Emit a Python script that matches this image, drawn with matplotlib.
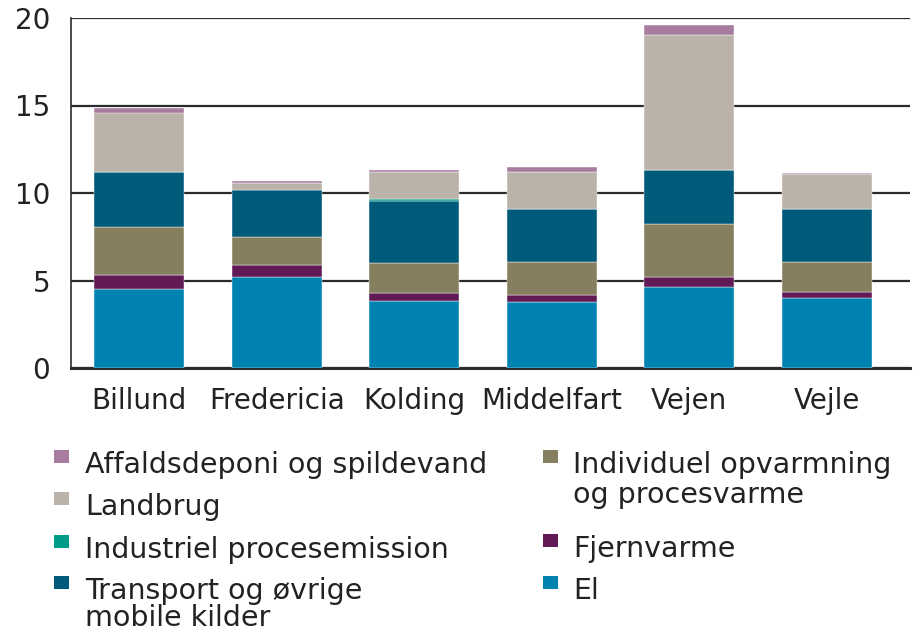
import matplotlib.pyplot as plt
import numpy as np
from matplotlib.patches import Rectangle

plt.rcParams['font.family'] = ['DejaVu Sans']

kommuner = ["Billund", "Fredericia", "Kolding", "Middelfart", "Vejen", "Vejle"]

# stacking order bottom -> top
el = [4.50, 5.20, 3.83, 3.75, 4.65, 3.98]
fjernvarme = [0.83, 0.70, 0.47, 0.42, 0.55, 0.38]
individuel = [2.73, 1.57, 1.68, 1.87, 3.05, 1.68]
transport = [3.14, 2.73, 3.58, 3.05, 3.05, 3.03]
industriel = [0.0, 0.0, 0.10, 0.0, 0.0, 0.0]
landbrug = [3.40, 0.35, 1.56, 2.11, 7.73, 2.00]
affald = [0.27, 0.14, 0.11, 0.30, 0.57, 0.07]

series = [
    ("El", el, "#0083B0"),
    ("Fjernvarme", fjernvarme, "#611A55"),
    ("Individuel opvarmning\nog procesvarme", individuel, "#857F5F"),
    ("Transport og øvrige\nmobile kilder", transport, "#005A7A"),
    ("Industriel procesemission", industriel, "#009C8A"),
    ("Landbrug", landbrug, "#BBB3AA"),
    ("Affaldsdeponi og spildevand", affald, "#A87C9F"),
]

W, H = 915, 634
fig = plt.figure(figsize=(W / 100, H / 100), dpi=100)
ax = fig.add_axes([70.5 / W, 1 - 368 / H, (910 - 70.5) / W, 350 / H])

x = np.arange(len(kommuner))
bottom = np.zeros(len(kommuner))
for name, vals, col in series:
    ax.bar(x, vals, width=0.655, bottom=bottom, color=col, edgecolor="white",
           linewidth=0.3, zorder=3)
    bottom += np.array(vals)

ax.set_xlim(-0.5, 5.605)
ax.set_ylim(0, 20)
ax.set_yticks([0, 5, 10, 15, 20])
ax.set_xticks(x)
ax.set_xticklabels(kommuner)
ax.yaxis.grid(True, color="#2b2b2b", linewidth=1.6, zorder=0)
for s in ["top", "right"]:
    ax.spines[s].set_visible(False)
ax.spines["left"].set_color("#2b2b2b")
ax.spines["bottom"].set_color("#2b2b2b")
ax.spines["left"].set_linewidth(1.2)
ax.spines["bottom"].set_linewidth(2.2)
ax.tick_params(axis="x", length=0, pad=13.5, labelsize=20, colors="#222222")
ax.tick_params(axis="y", length=0, pad=14.5, labelsize=20, colors="#222222")

# legend, laid out by hand in two columns (pixel positions of the reference)
cols = {name: col for name, _, col in series}
legend_layout = [
    ("Affaldsdeponi og spildevand", 54, 85, 473, 30),
    ("Landbrug", 54, 85, 515, 30),
    ("Industriel procesemission", 54, 85, 558, 30),
    ("Transport og øvrige\nmobile kilder", 54, 85, 599, 27),
    ("Individuel opvarmning\nog procesvarme", 543, 573, 473, 30),
    ("Fjernvarme", 543, 573, 557, 30),
    ("El", 543, 573, 599, 30),
]
for name, xs, xt, yb, dy in legend_layout:
    fig.add_artist(Rectangle((xs / W, 1 - (yb - 10) / H), 15 / W, 13 / H,
                             transform=fig.transFigure, facecolor=cols[name],
                             edgecolor="none"))
    for i, line in enumerate(name.split("\n")):
        fig.text(xt / W, 1 - (yb + dy * i) / H, line, fontsize=20.5,
                 color="#222222", va="baseline", ha="left")

fig.savefig("out.png", dpi=100)
